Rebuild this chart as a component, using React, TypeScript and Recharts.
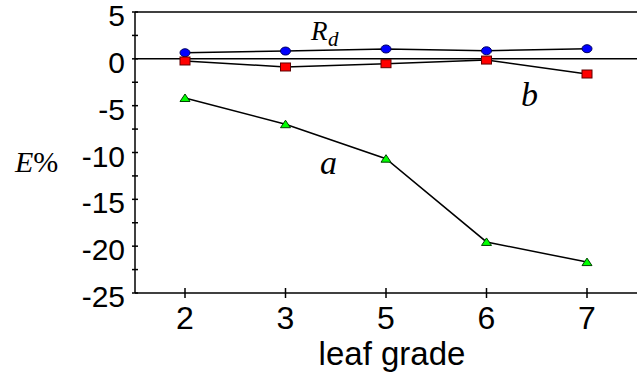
import React from 'react';
import { LineChart, Line, XAxis, YAxis, ReferenceLine } from 'recharts';

const grades = ['2', '3', '5', '6', '7'];
const rdValues = [0.65, 0.83, 1.05, 0.86, 1.08];
const bValues = [-0.23, -0.87, -0.52, -0.13, -1.62];
const aValues = [-4.18, -6.98, -10.66, -19.55, -21.7];
const yMajorTicks = [-25, -20, -15, -10, -5, 0, 5];
const yMinorTicks = [-22.5, -17.5, -12.5, -7.5, -2.5, 2.5];

const data = grades.map((g, i) => ({ grade: g, rd: rdValues[i], b: bValues[i], a: aValues[i] }));
const yTicks = [...yMajorTicks, ...yMinorTicks].sort((p, q) => p - q);

const sans = '"Liberation Sans", Arial, sans-serif';
const serif = '"Liberation Serif", "Times New Roman", serif';

const XTick = (props: any) => {
  const { x, y, payload } = props;
  return (
    <g>
      <line x1={x} x2={x} y1={y - 5} y2={y + 5} stroke="#000" strokeWidth={1.5} />
      <text x={x} y={y + 36} textAnchor="middle" fontFamily={sans} fontSize={32} fill="#000">
        {payload.value}
      </text>
    </g>
  );
};

const YTick = (props: any) => {
  const { x, y, payload } = props;
  const major = yMajorTicks.includes(payload.value);
  return (
    <g>
      <line x1={x - 3} x2={x + 3} y1={y} y2={y} stroke="#000" strokeWidth={1.5} />
      {major && (
        <text x={x - 10} y={y + 14} textAnchor="end" fontFamily={sans} fontSize={30} fill="#000">
          {payload.value}
        </text>
      )}
    </g>
  );
};

const CircleDot = (props: any) => {
  const { cx, cy } = props;
  return <ellipse cx={cx} cy={cy} rx={5} ry={4} fill="#0000ff" stroke="#000060" strokeWidth={1} />;
};

const SquareDot = (props: any) => {
  const { cx, cy } = props;
  return <rect x={cx - 5} y={cy - 4} width={10} height={8} fill="#ff0000" stroke="#600000" strokeWidth={1} />;
};

const TriangleDot = (props: any) => {
  const { cx, cy } = props;
  return (
    <path d={`M${cx - 5},${cy + 3.5}L${cx + 5},${cy + 3.5}L${cx},${cy - 4}Z`} fill="#00ff00" stroke="#004000" strokeWidth={1} />
  );
};

export default function App() {
  return (
    <div style={{ position: 'absolute', left: 0, top: 0, width: 642, height: 376, background: '#fff' }}>
      <LineChart width={642} height={376} data={data} margin={{ top: 12, right: 5, left: 0, bottom: 0 }}>
        <XAxis
          dataKey="grade"
          height={83}
          padding={{ left: 50, right: 50 }}
          axisLine={{ stroke: '#000', strokeWidth: 1.5 }}
          tickLine={false}
          tickSize={0}
          tickMargin={0}
          tick={<XTick />}
          interval={0}
        />
        <YAxis
          width={135}
          domain={[-25, 5]}
          ticks={yTicks}
          interval={0}
          axisLine={{ stroke: '#000', strokeWidth: 1.5 }}
          tickLine={false}
          tickSize={0}
          tickMargin={0}
          tick={<YTick />}
        />
        <YAxis
          yAxisId="right"
          orientation="right"
          width={0}
          domain={[-25, 5]}
          tick={false}
          tickLine={false}
          axisLine={{ stroke: '#000', strokeWidth: 1.5 }}
        />
        <ReferenceLine y={5} stroke="#000" strokeWidth={1.5} />
        <ReferenceLine y={0} stroke="#000" strokeWidth={1.5} />
        <Line dataKey="rd" stroke="#000" strokeWidth={1.5} dot={<CircleDot />} isAnimationActive={false} />
        <Line dataKey="b" stroke="#000" strokeWidth={1.5} dot={<SquareDot />} isAnimationActive={false} />
        <Line dataKey="a" stroke="#000" strokeWidth={1.5} dot={<TriangleDot />} isAnimationActive={false} />
      </LineChart>
      <svg width={642} height={376} style={{ position: 'absolute', left: 0, top: 0, pointerEvents: 'none' }}>
        <text x={15} y={172} fontFamily={serif} fontSize={30} fill="#000">
          <tspan fontStyle="italic">E</tspan>%
        </text>
        <text x={311} y={40} fontFamily={serif} fontSize={27} fontStyle="italic" fill="#000">
          R
        </text>
        <text x={328} y={46} fontFamily={serif} fontSize={21} fontStyle="italic" fill="#000">
          d
        </text>
        <text x={320} y={174} fontFamily={serif} fontSize={34} fontStyle="italic" fill="#000">
          a
        </text>
        <text x={521} y={106} fontFamily={serif} fontSize={34} fontStyle="italic" fill="#000">
          b
        </text>
        <text x={392} y={365} textAnchor="middle" fontFamily={sans} fontSize={33} fill="#000">
          leaf grade
        </text>
      </svg>
    </div>
  );
}
